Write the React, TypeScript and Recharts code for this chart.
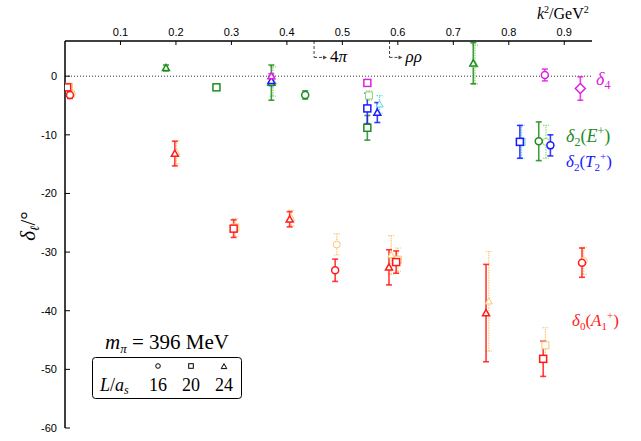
import React from "react";
import {
  ScatterChart,
  Scatter,
  XAxis,
  YAxis,
  ErrorBar,
  ReferenceLine,
  ReferenceDot,
  Customized,
} from "recharts";

type Pt = { k2: number; d: number; e: number };
type Kind = "circle" | "square" | "triangle" | "diamond";

const xTicks = [0.1, 0.2, 0.3, 0.4, 0.5, 0.6, 0.7, 0.8, 0.9];
const yTicks = [0, -10, -20, -30, -40, -50, -60];

// delta_0(A1+), L = 16 / 20 / 24
const a1Circle: Pt[] = [
  { k2: 0.009, d: -3.2, e: 0.6 },
  { k2: 0.487, d: -33.1, e: 1.9 },
  { k2: 0.932, d: -31.8, e: 2.5 },
];
const a1Square: Pt[] = [
  { k2: 0.004, d: -1.9, e: 0.5 },
  { k2: 0.304, d: -26.0, e: 1.5 },
  { k2: 0.597, d: -31.7, e: 1.9 },
  { k2: 0.862, d: -48.2, e: 3.0 },
];
const a1Triangle: Pt[] = [
  { k2: 0.198, d: -13.2, e: 2.1 },
  { k2: 0.405, d: -24.4, e: 1.3 },
  { k2: 0.584, d: -32.6, e: 3.0 },
  { k2: 0.759, d: -40.4, e: 8.3 },
];
// faint companions (dotted)
const a1CircleAlt: Pt[] = [
  { k2: 0.012, d: -3.0, e: 0.6 },
  { k2: 0.49, d: -28.7, e: 1.8 },
  { k2: 0.935, d: -31.5, e: 2.3 },
];
const a1SquareAlt: Pt[] = [
  { k2: 0.007, d: -1.8, e: 0.5 },
  { k2: 0.307, d: -25.8, e: 1.5 },
  { k2: 0.6, d: -31.3, e: 2.0 },
  { k2: 0.866, d: -45.9, e: 3.0 },
];
const a1TriangleAlt: Pt[] = [
  { k2: 0.201, d: -13.0, e: 2.0 },
  { k2: 0.408, d: -24.2, e: 1.3 },
  { k2: 0.588, d: -30.5, e: 3.3 },
  { k2: 0.764, d: -38.4, e: 8.5 },
];

// delta_2(E+)
const eCircle: Pt[] = [
  { k2: 0.433, d: -3.2, e: 0.7 },
  { k2: 0.854, d: -11.1, e: 3.3 },
];
const eSquare: Pt[] = [
  { k2: 0.273, d: -1.9, e: 0.4 },
  { k2: 0.545, d: -8.8, e: 2.1 },
];
const eTriangle: Pt[] = [
  { k2: 0.182, d: 1.4, e: 0.5 },
  { k2: 0.372, d: -1.1, e: 3.0 },
  { k2: 0.736, d: 2.2, e: 3.5 },
];
const eCircleAlt: Pt[] = [{ k2: 0.867, d: -11.2, e: 2.8 }];
const eSquareAlt: Pt[] = [{ k2: 0.548, d: -3.3, e: 0.8 }];
const eTriangleAlt: Pt[] = [
  { k2: 0.375, d: -0.9, e: 2.5 },
  { k2: 0.739, d: 2.0, e: 3.3 },
];

// delta_2(T2+)
const tCircle: Pt[] = [{ k2: 0.875, d: -11.8, e: 1.8 }];
const tSquare: Pt[] = [
  { k2: 0.545, d: -5.5, e: 2.6 },
  { k2: 0.82, d: -11.2, e: 2.8 },
];
const tTriangle: Pt[] = [
  { k2: 0.372, d: -0.8, e: 0.8 },
  { k2: 0.563, d: -6.2, e: 1.7 },
];
const tSquareAlt: Pt[] = [{ k2: 0.823, d: -11.2, e: 2.8 }];
const tTriangleAlt: Pt[] = [{ k2: 0.567, d: -4.8, e: 1.5 }];

// delta_4
const d4Circle: Pt[] = [{ k2: 0.865, d: 0.2, e: 1.0 }];
const d4Square: Pt[] = [{ k2: 0.545, d: -1.15, e: 0.4 }];
const d4Triangle: Pt[] = [{ k2: 0.372, d: 0.0, e: 0.4 }];
const d4Diamond: Pt[] = [{ k2: 0.929, d: -2.1, e: 2.0 }];

const thresholds = [
  { pre: "4", greek: "π", k2: 0.449 },
  { pre: "", greek: "ρρ", k2: 0.585 },
];

const RED = "#ff1a1a";
const GREEN = "#1e8c1e";
const BLUE = "#1a1aff";
const MAGENTA = "#e020e0";

const series: { data: Pt[]; kind: Kind; color: string; faint?: boolean }[] = [
  { data: a1CircleAlt, kind: "circle", color: "#fbc56f", faint: true },
  { data: a1SquareAlt, kind: "square", color: "#fbc56f", faint: true },
  { data: a1TriangleAlt, kind: "triangle", color: "#fbc56f", faint: true },
  { data: eCircleAlt, kind: "circle", color: "#8fdc6f", faint: true },
  { data: eSquareAlt, kind: "square", color: "#8fdc6f", faint: true },
  { data: eTriangleAlt, kind: "triangle", color: "#8fdc6f", faint: true },
  { data: tSquareAlt, kind: "square", color: "#5ad6ea", faint: true },
  { data: tTriangleAlt, kind: "triangle", color: "#5ad6ea", faint: true },
  { data: a1Circle, kind: "circle", color: RED },
  { data: a1Square, kind: "square", color: RED },
  { data: a1Triangle, kind: "triangle", color: RED },
  { data: eCircle, kind: "circle", color: GREEN },
  { data: eSquare, kind: "square", color: GREEN },
  { data: eTriangle, kind: "triangle", color: GREEN },
  { data: tCircle, kind: "circle", color: BLUE },
  { data: tSquare, kind: "square", color: BLUE },
  { data: tTriangle, kind: "triangle", color: BLUE },
  { data: d4Circle, kind: "circle", color: MAGENTA },
  { data: d4Square, kind: "square", color: MAGENTA },
  { data: d4Triangle, kind: "triangle", color: MAGENTA },
  { data: d4Diamond, kind: "diamond", color: MAGENTA },
];

const SERIF = "'Liberation Serif', 'DejaVu Serif', serif";
const SANS = "'Liberation Sans', Arial, sans-serif";

function Marker({ cx, cy, kind, color, s = 3.5, sw = 1.5, fill = "#fff" }: any) {
  if (cx == null || cy == null) return null;
  if (kind === "circle")
    return <circle cx={cx} cy={cy} r={s} fill={fill} stroke={color} strokeWidth={sw} />;
  if (kind === "square")
    return (
      <rect x={cx - s} y={cy - s} width={2 * s} height={2 * s} fill={fill} stroke={color} strokeWidth={sw} />
    );
  if (kind === "diamond")
    return (
      <polygon
        points={`${cx},${cy - s - 1.5} ${cx + s + 1.5},${cy} ${cx},${cy + s + 1.5} ${cx - s - 1.5},${cy}`}
        fill={fill}
        stroke={color}
        strokeWidth={sw}
      />
    );
  return (
    <polygon
      points={`${cx},${cy - s} ${cx + s},${cy + s * 0.75} ${cx - s},${cy + s * 0.75}`}
      fill={fill}
      stroke={color}
      strokeWidth={sw}
    />
  );
}

function Overlay() {
  return (
    <g>
      <text x={537} y={19} fontFamily={SERIF} fontSize={16} fill="#000">
        <tspan fontStyle="italic">k</tspan>
        <tspan dy={-6} fontSize={10}>2</tspan>
        <tspan dy={6}>/GeV</tspan>
        <tspan dy={-6} fontSize={10}>2</tspan>
      </text>
      <text
        transform="translate(35,226) rotate(-90)"
        textAnchor="middle"
        fontFamily={SERIF}
        fontSize={21}
        fill="#000"
      >
        <tspan fontStyle="italic">δ</tspan>
        <tspan dy={4} fontSize={13} fontStyle="italic">ℓ</tspan>
        <tspan dy={-4}>/°</tspan>
      </text>

      <text x={596} y={85} fontFamily={SERIF} fontSize={18} fill={MAGENTA}>
        <tspan fontStyle="italic">δ</tspan>
        <tspan dy={4} fontSize={12}>4</tspan>
      </text>
      <text x={566} y={142} fontFamily={SERIF} fontSize={18} fill={GREEN}>
        <tspan fontStyle="italic">δ</tspan>
        <tspan dy={4} fontSize={12}>2</tspan>
        <tspan dy={-4}>(</tspan>
        <tspan fontStyle="italic">E</tspan>
        <tspan dy={-7} fontSize={12}>+</tspan>
        <tspan dy={7}>)</tspan>
      </text>
      <text x={566} y={167} fontFamily={SERIF} fontSize={17} fill={BLUE}>
        <tspan fontStyle="italic">δ</tspan>
        <tspan dy={4} fontSize={11}>2</tspan>
        <tspan dy={-4}>(</tspan>
        <tspan fontStyle="italic">T</tspan>
        <tspan dy={4} fontSize={11}>2</tspan>
        <tspan dy={-11} fontSize={11}>+</tspan>
        <tspan dy={7}>)</tspan>
      </text>
      <text x={572} y={326} fontFamily={SERIF} fontSize={17} fill={RED}>
        <tspan fontStyle="italic">δ</tspan>
        <tspan dy={4} fontSize={11}>0</tspan>
        <tspan dy={-4}>(</tspan>
        <tspan fontStyle="italic">A</tspan>
        <tspan dy={4} fontSize={11}>1</tspan>
        <tspan dy={-11} fontSize={11}>+</tspan>
        <tspan dy={7}>)</tspan>
      </text>

      <text x={167} y={349} textAnchor="middle" fontFamily={SERIF} fontSize={21} fill="#000">
        <tspan fontStyle="italic">m</tspan>
        <tspan dy={4} fontSize={13} fontStyle="italic">π</tspan>
        <tspan dy={-4}> = 396 MeV</tspan>
      </text>
      <rect x={92.5} y={357.5} width={149} height={41} rx={3} fill="#fff" stroke="#000" strokeWidth={1} />
      <Marker cx={158} cy={366} kind="circle" color="#000" s={2.3} sw={1} />
      <Marker cx={191} cy={366} kind="square" color="#000" s={2.3} sw={1} />
      <Marker cx={224} cy={366.5} kind="triangle" color="#000" s={2.8} sw={1} />
      <text x={100} y={391} fontFamily={SERIF} fontSize={18} fill="#000">
        <tspan fontStyle="italic">L</tspan>
        <tspan>/</tspan>
        <tspan fontStyle="italic">a</tspan>
        <tspan dy={3} fontSize={12} fontStyle="italic">s</tspan>
      </text>
      <text x={158} y={391} textAnchor="middle" fontFamily={SERIF} fontSize={18} fill="#000">16</text>
      <text x={191} y={391} textAnchor="middle" fontFamily={SERIF} fontSize={18} fill="#000">20</text>
      <text x={224} y={391} textAnchor="middle" fontFamily={SERIF} fontSize={18} fill="#000">24</text>
    </g>
  );
}

export default function App() {
  return (
    <div style={{ position: "absolute", left: 0, top: 0, background: "#fff" }}>
      <ScatterChart width={641} height={441} margin={{ top: 11, right: 49, bottom: 13, left: 15 }}>
        <XAxis
          type="number"
          dataKey="k2"
          orientation="top"
          domain={[0, 0.95]}
          ticks={xTicks}
          height={30}
          tickSize={-4}
          tickMargin={9}
          axisLine={{ stroke: "#000", strokeWidth: 1.5 }}
          tickLine={{ stroke: "#000", strokeWidth: 1 }}
          tick={{ fill: "#000", fontSize: 11, fontFamily: SANS }}
          allowDataOverflow
        />
        <YAxis
          type="number"
          dataKey="d"
          domain={[-60, 6]}
          ticks={yTicks}
          width={50}
          tickSize={-5}
          tickMargin={13}
          axisLine={{ stroke: "#000", strokeWidth: 1.5 }}
          tickLine={{ stroke: "#000", strokeWidth: 1 }}
          tick={{ fill: "#000", fontSize: 11, fontFamily: SANS }}
          allowDataOverflow
        />
        <ReferenceLine y={0} stroke="#333" strokeDasharray="1 2" strokeWidth={1} />
        {thresholds.map((t) => (
          <ReferenceLine
            key={t.greek + "v"}
            segment={[
              { x: t.k2, y: 6 },
              { x: t.k2, y: 3.2 },
            ]}
            stroke="#444"
            strokeDasharray="3 2"
          />
        ))}
        {thresholds.map((t) => (
          <ReferenceLine
            key={t.greek + "h"}
            segment={[
              { x: t.k2, y: 3.2 },
              { x: t.k2 + 0.018, y: 3.2 },
            ]}
            stroke="#444"
            strokeDasharray="3 2"
          />
        ))}
        {thresholds.map((t) => (
          <ReferenceDot
            key={t.greek + "d"}
            x={t.k2 + 0.018}
            y={3.2}
            r={2}
            shape={(p: any) => (
              <g>
                <polygon points={`${p.cx + 3},${p.cy} ${p.cx - 1},${p.cy - 2} ${p.cx - 1},${p.cy + 2}`} fill="#444" />
                <text x={p.cx + 6} y={p.cy + 5} fontFamily={SERIF} fontSize={17} fill="#000">
                  <tspan>{t.pre}</tspan>
                  <tspan fontStyle="italic">{t.greek}</tspan>
                </text>
              </g>
            )}
          />
        ))}
        {series.map((s, i) => (
          <Scatter
            key={i}
            data={s.data}
            isAnimationActive={false}
            shape={(p: any) => (
              <Marker cx={p.cx} cy={p.cy} kind={s.kind} color={s.color} sw={s.faint ? 1 : 1.5} />
            )}
          >
            <ErrorBar
              dataKey="e"
              direction="y"
              width={3}
              stroke={s.color}
              strokeWidth={s.faint ? 1.2 : 1.6}
              strokeDasharray={s.faint ? "1.5 1" : undefined}
              strokeOpacity={s.faint ? 1 : 0.85}
            />
          </Scatter>
        ))}
        <Customized component={Overlay} />
      </ScatterChart>
    </div>
  );
}
